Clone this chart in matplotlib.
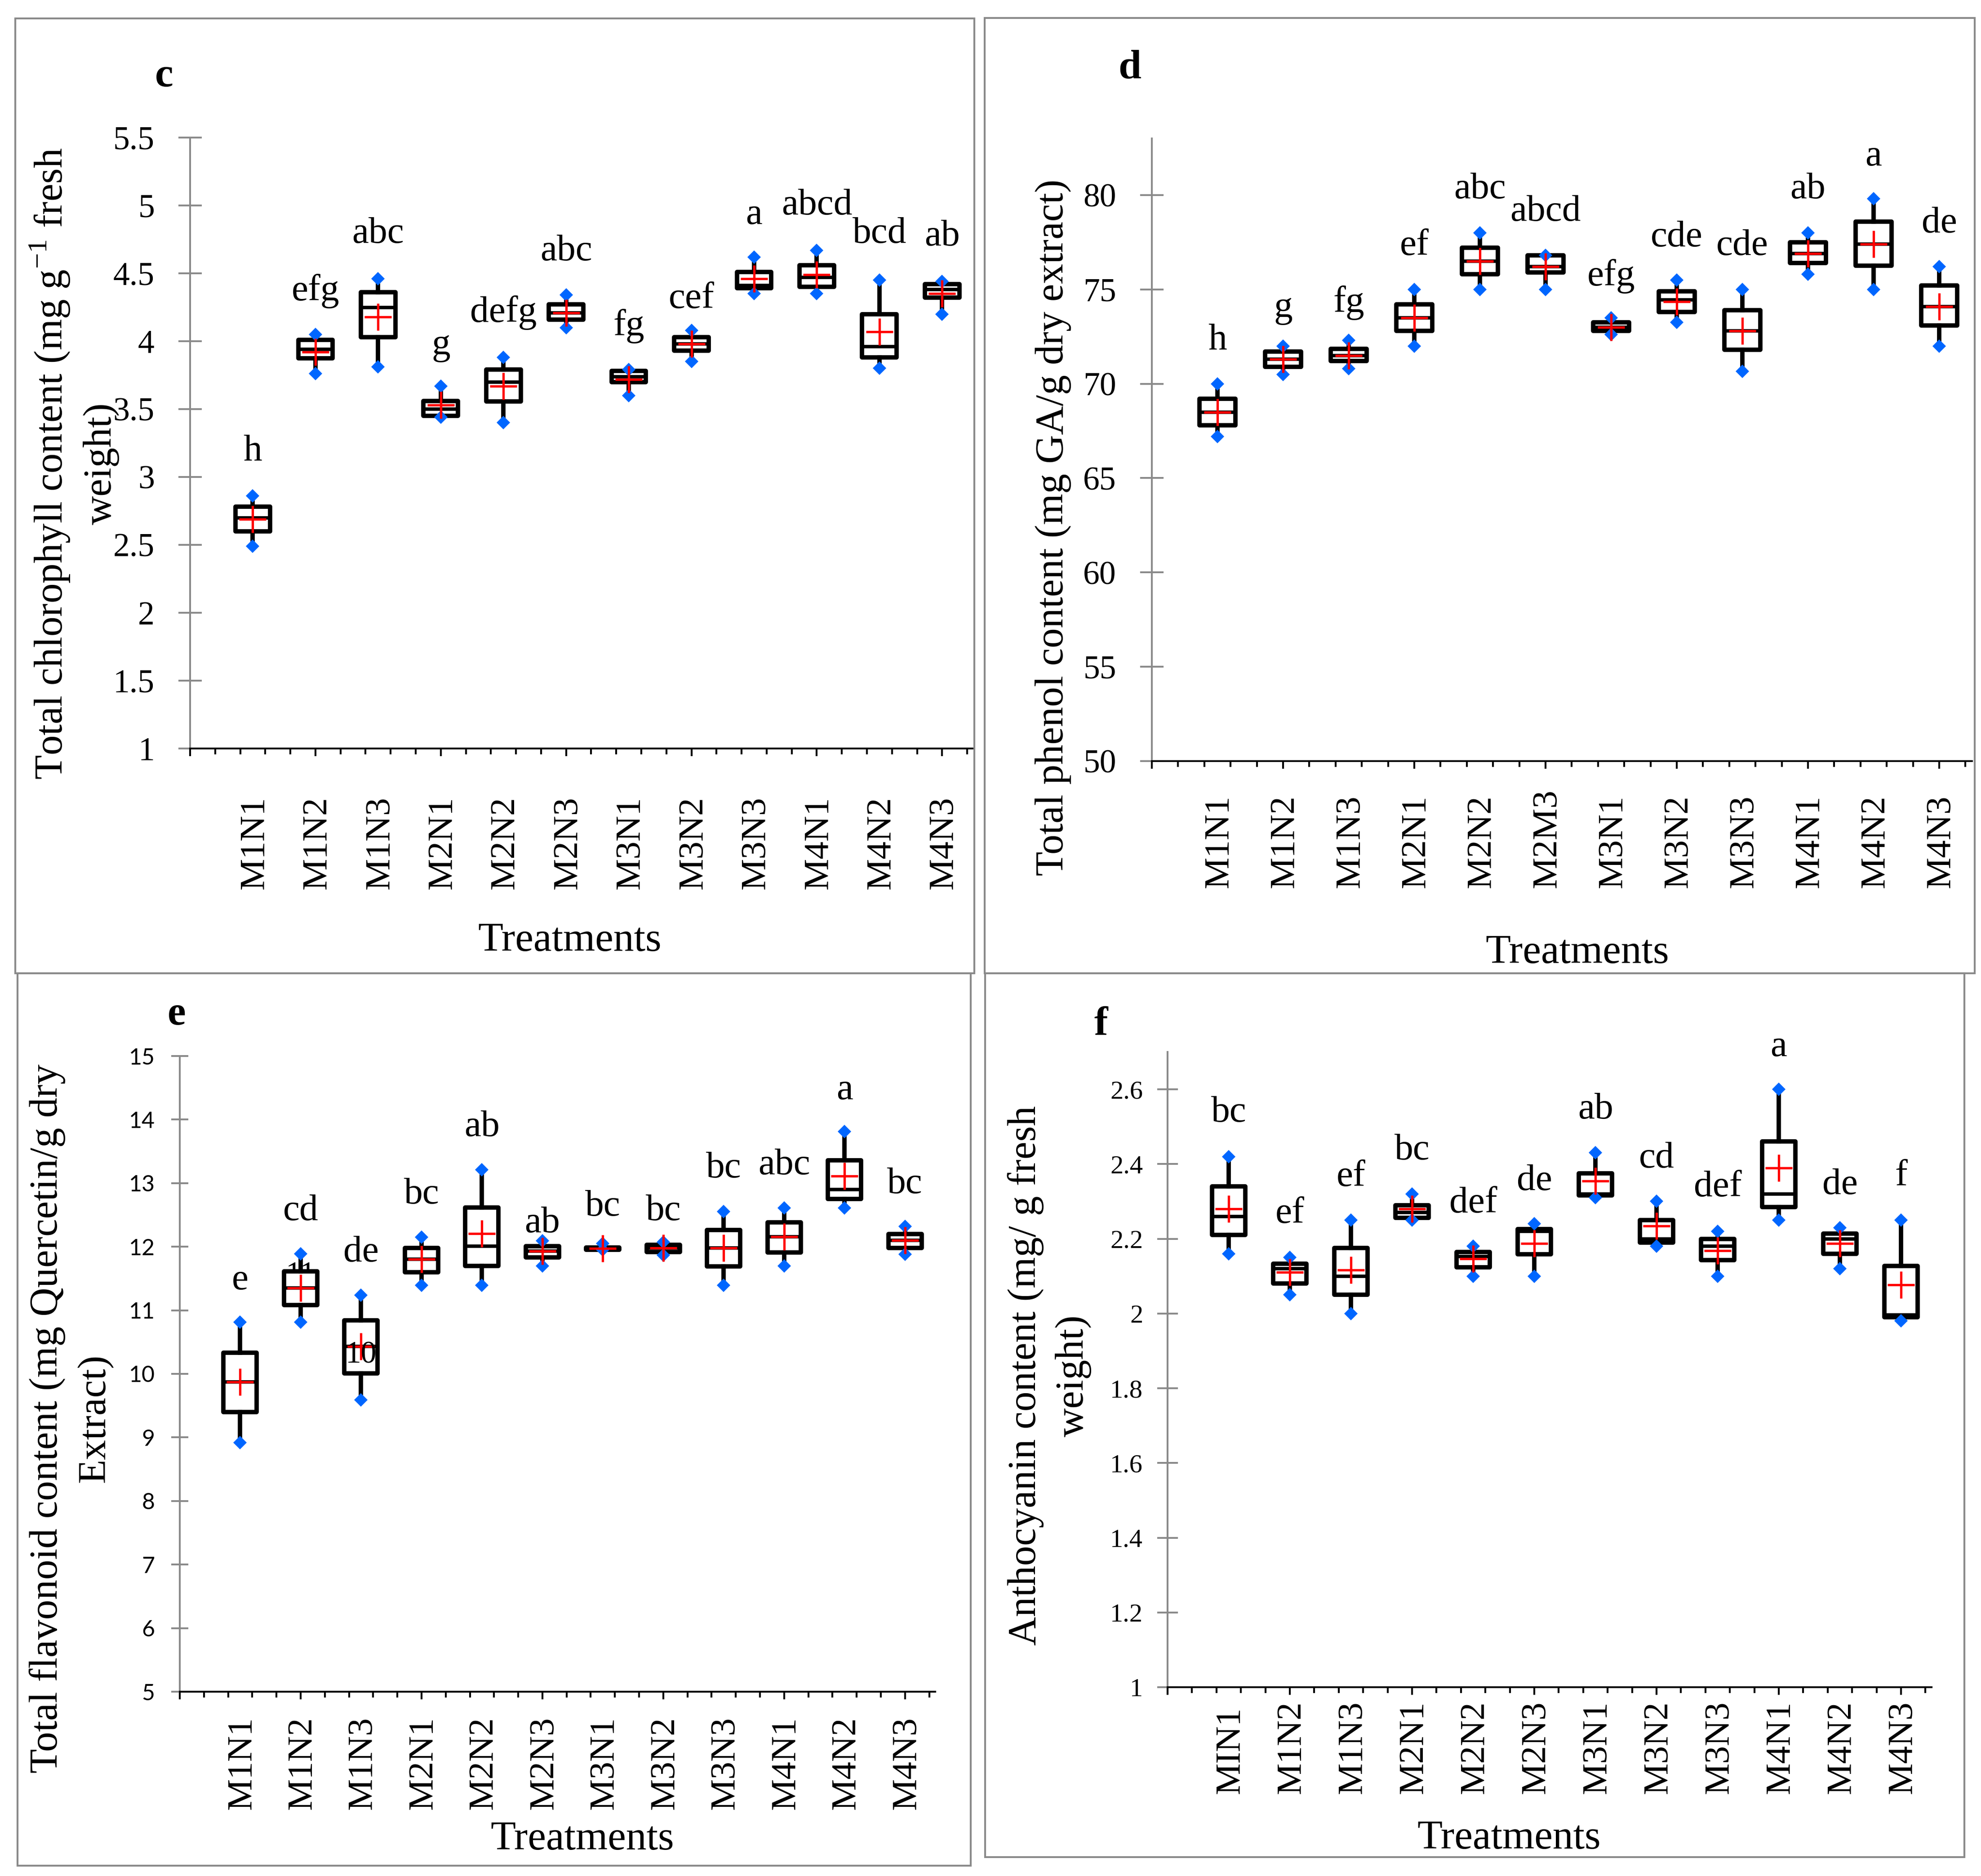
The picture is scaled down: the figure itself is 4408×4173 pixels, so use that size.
import numpy as np
import matplotlib
matplotlib.use("Agg")
import matplotlib.pyplot as plt
import matplotlib.transforms as mtransforms
from matplotlib.patches import Rectangle
from matplotlib.ticker import MultipleLocator, NullFormatter

plt.rcParams["font.family"] = ["Liberation Serif", "DejaVu Serif"]
plt.rcParams["mathtext.fontset"] = "custom"
plt.rcParams["mathtext.rm"] = "Liberation Serif"

# ---- data ----
treat = ["M1N1", "M1N2", "M1N3", "M2N1", "M2N2", "M2N3",
         "M3N1", "M3N2", "M3N3", "M4N1", "M4N2", "M4N3"]
treat_d = ["M1N1", "M1N2", "M1N3", "M2N1", "M2N2", "M2M3",
           "M3N1", "M3N2", "M3N3", "M4N1", "M4N2", "M4N3"]
treat_f = ["MIN1"] + treat[1:]

# c: chlorophyll
c_min = [2.49, 3.76, 3.81, 3.44, 3.40, 4.10, 3.60, 3.85, 4.35, 4.35, 3.80, 4.20]
c_q1 = [2.60, 3.875, 4.03, 3.45, 3.555, 4.16, 3.70, 3.93, 4.39, 4.40, 3.88, 4.32]
c_med = [2.70, 3.94, 4.25, 3.50, 3.70, 4.21, 3.74, 3.98, 4.41, 4.47, 3.96, 4.38]
c_q3 = [2.78, 4.01, 4.36, 3.56, 3.79, 4.27, 3.78, 4.03, 4.51, 4.56, 4.20, 4.42]
c_max = [2.86, 4.05, 4.46, 3.67, 3.88, 4.34, 3.79, 4.08, 4.62, 4.67, 4.45, 4.44]
c_mean = [2.69, 3.92, 4.18, 3.53, 3.67, 4.21, 3.72, 3.98, 4.46, 4.49, 4.07, 4.35]
c_let = ["h", "efg", "abc", "g", "defg", "abc", "fg", "cef", "a", "abcd", "bcd", "ab"]
c_let_y = [3.19, 4.37, 4.79, 3.97, 4.21, 4.66, 4.11, 4.31, 4.93, 5.00, 4.79, 4.77]

# d: phenol
d_min = [67.2, 70.5, 70.8, 72.0, 75.0, 75.0, 72.6, 73.25, 70.65, 75.8, 75.0, 72.0]
d_q1 = [67.8, 70.9, 71.2, 72.8, 75.8, 75.9, 72.8, 73.8, 71.8, 76.4, 76.25, 73.1]
d_med = [68.5, 71.3, 71.5, 73.5, 76.5, 76.2, 73.0, 74.45, 72.8, 76.9, 77.4, 74.1]
d_q3 = [69.2, 71.7, 71.85, 74.2, 77.2, 76.8, 73.25, 74.9, 73.9, 77.5, 78.6, 75.2]
d_max = [70.0, 72.0, 72.3, 75.0, 78.0, 76.8, 73.5, 75.5, 75.0, 78.0, 79.8, 76.2]
d_mean = [68.5, 71.3, 71.5, 73.5, 76.5, 76.2, 73.0, 74.35, 72.8, 76.9, 77.4, 74.1]
d_let = ["h", "g", "fg", "ef", "abc", "abcd", "efg", "cde", "cde", "ab", "a", "de"]
d_let_y = [72.3, 74.0, 74.3, 77.3, 80.3, 79.1, 75.7, 77.75, 77.3, 80.3, 82.05, 78.5]

# e: flavonoid
e_min = [8.92, 10.81, 9.59, 11.39, 11.39, 11.70, 11.95, 11.87, 11.39, 11.70, 12.61, 11.88]
e_q1 = [9.40, 11.08, 10.01, 11.60, 11.70, 11.83, 11.95, 11.92, 11.69, 11.91, 12.75, 11.98]
e_med = [9.87, 11.35, 10.43, 11.80, 12.01, 11.93, 11.98, 11.98, 11.98, 12.16, 12.90, 12.10]
e_q3 = [10.33, 11.61, 10.84, 11.98, 12.62, 12.01, 11.99, 12.03, 12.26, 12.38, 13.36, 12.20]
e_max = [10.81, 11.89, 11.24, 12.15, 13.21, 12.09, 12.05, 12.07, 12.55, 12.61, 13.81, 12.32]
e_mean = [9.87, 11.35, 10.43, 11.80, 12.21, 11.93, 11.97, 11.98, 11.98, 12.16, 13.11, 12.10]
e_let = ["e", "cd", "de", "bc", "ab", "ab", "bc", "bc", "bc", "abc", "a", "bc"]
e_let_y = [11.47, 12.56, 11.91, 12.82, 13.88, 12.37, 12.63, 12.56, 13.23, 13.28, 14.46, 12.98]

# f: anthocyanin
f_min = [2.16, 2.05, 2.00, 2.25, 2.10, 2.10, 2.31, 2.18, 2.10, 2.25, 2.12, 1.98]
f_q1 = [2.21, 2.08, 2.05, 2.256, 2.124, 2.159, 2.316, 2.19, 2.143, 2.285, 2.16, 1.99]
f_med = [2.26, 2.12, 2.10, 2.27, 2.152, 2.22, 2.32, 2.20, 2.18, 2.32, 2.20, 1.996]
f_q3 = [2.34, 2.133, 2.176, 2.29, 2.165, 2.226, 2.375, 2.25, 2.20, 2.46, 2.214, 2.127]
f_max = [2.42, 2.15, 2.25, 2.32, 2.18, 2.24, 2.43, 2.30, 2.22, 2.60, 2.23, 2.25]
f_mean = [2.28, 2.11, 2.116, 2.28, 2.146, 2.187, 2.355, 2.234, 2.168, 2.39, 2.187, 2.077]
f_let = ["bc", "ef", "ef", "bc", "def", "de", "ab", "cd", "def", "a", "de", "f"]
f_let_y = [2.537, 2.266, 2.365, 2.436, 2.294, 2.354, 2.546, 2.415, 2.338, 2.713, 2.343, 2.367]

# ---- figure ----
W, H = 4408, 4173
fig = plt.figure(figsize=(W / 100, H / 100), dpi=100)
GRAY = "#8a8a8a"
BLUE = "#0066ff"
pos = np.arange(1, 13)


def fx(x):
    return x / W


def fy(y):
    return 1 - y / H


def frame(x0, y0, x1, y1):
    fig.add_artist(Rectangle((fx(x0), fy(y1)), (x1 - x0) / W, (y1 - y0) / H,
                             transform=fig.transFigure, fill=False,
                             ec=GRAY, lw=3))


def panel(box, ylim, ystep, mins, q1, med, q3, maxs, means, names, lets, let_y,
          tick_font, tick_size, tick_len, tick_pad, lab_bottom):
    x0, ytop, x1, ybot = box
    ax = fig.add_axes([fx(x0), fy(ybot), (x1 - x0) / W, (ybot - ytop) / H])
    stats = [dict(whislo=a, q1=b, med=m, q3=d, whishi=e, mean=mn, fliers=[])
             for a, b, m, d, e, mn in zip(mins, q1, med, q3, maxs, means)]
    ax.bxp(stats, positions=pos, widths=0.55, patch_artist=True,
           showmeans=True, showcaps=False, showfliers=False,
           boxprops=dict(facecolor="white", edgecolor="black", linewidth=7,
                         joinstyle="round"),
           whiskerprops=dict(color="black", linewidth=7),
           medianprops=dict(color="black", linewidth=5.5),
           meanprops=dict(marker="+", markeredgecolor="red", markersize=43,
                          markeredgewidth=3.8, zorder=5))
    ax.plot(pos, mins, "D", color=BLUE, ms=15, mew=0, zorder=4, clip_on=False)
    ax.plot(pos, maxs, "D", color=BLUE, ms=15, mew=0, zorder=4, clip_on=False)
    for p, s, y in zip(pos, lets, let_y):
        ax.text(p, y, s, ha="center", va="center", fontsize=60)

    ax.set_xlim(0, 12.5)
    ax.set_ylim(*ylim)
    ax.set_yticks(np.arange(ylim[0], ylim[1] + 1e-9, ystep) if ystep else [])
    for s in ("top", "right"):
        ax.spines[s].set_visible(False)
    ax.spines["left"].set_color(GRAY)
    ax.spines["left"].set_linewidth(2.9)
    ax.spines["bottom"].set_linewidth(2.9)
    ax.xaxis.set_major_locator(MultipleLocator(2))
    ax.xaxis.set_minor_locator(MultipleLocator(0.4))
    ax.xaxis.set_major_formatter(NullFormatter())
    ax.tick_params(axis="x", which="major", direction="out", length=12,
                   width=3, color="black")
    ax.tick_params(axis="x", which="minor", direction="out", length=9,
                   width=3, color="black")
    ax.tick_params(axis="y", direction="inout", length=tick_len, width=2.9,
                   color=GRAY, pad=tick_pad, labelsize=tick_size)
    for t in ax.get_yticklabels():
        t.set_fontfamily(tick_font)
    tr = mtransforms.blended_transform_factory(ax.transData, fig.transFigure)
    for p, s in zip(pos, names):
        ax.text(p + 0.03, fy(lab_bottom), s, transform=tr, rotation=90,
                ha="center", va="bottom", fontsize=57)
    return ax


SERIF = ["Liberation Serif", "DejaVu Serif"]

# frames
frame(34, 41, 2168, 2165)
frame(2191, 40, 4394, 2165)
frame(39, 2165, 2160, 4150)
frame(2192, 2165, 4371, 4131)

# c
ax_c = panel((423, 306, 2166, 1665), (1, 5.5), 0.5, c_min, c_q1, c_med, c_q3,
             c_max, c_mean, treat, c_let, c_let_y, SERIF, 53, 38, 38, 1978)
ax_c.set_yticklabels(["1", "1.5", "2", "2.5", "3", "3.5", "4", "4.5", "5", "5.5"])

# d
ax_d = panel((2563, 308, 4388, 1693), (50, 83), None, d_min, d_q1, d_med, d_q3,
             d_max, d_mean, treat_d, d_let, d_let_y, SERIF, 53, 38, 38, 1975)
ax_d.set_yticks(np.arange(50, 81, 5))
for t in ax_d.get_yticklabels():
    t.set_fontfamily(SERIF)

# e
ax_e = panel((400, 2349, 2081, 3763), (5, 15), 1, e_min, e_q1, e_med, e_q3,
             e_max, e_mean, treat, e_let, e_let_y, ["Lato", "DejaVu Sans"],
             36, 28, 26, 4025)
ax_e.text(3, 10.29, "10", ha="center", va="center", fontsize=50, zorder=6)
ax_e.text(2, 11.55, "11", ha="center", va="center", fontsize=50, zorder=1)

# f
ax_f = panel((2598, 2340, 4298, 3753), (1, 2.7), None, f_min, f_q1, f_med, f_q3,
             f_max, f_mean, treat_f, f_let, f_let_y, SERIF, 42, 33, 23, 3990)
ax_f.set_yticks(np.round(np.arange(1, 2.61, 0.2), 1))
ax_f.set_yticklabels(["1", "1.2", "1.4", "1.6", "1.8", "2", "2.2", "2.4", "2.6"])
for t in ax_f.get_yticklabels():
    t.set_fontfamily(SERIF)

# axis titles
fig.text(fx(164), fy(1031), "Total chlorophyll content (mg g$^{\\mathregular{-1}}$ fresh\nweight)",
         rotation=90, ha="center", va="center", fontsize=64, linespacing=1.4)
fig.text(fx(2343), fy(1173), "Total phenol content (mg GA/g dry extract)",
         rotation=90, ha="center", va="center", fontsize=64)
fig.text(fx(158), fy(3155), "Total flavonoid content (mg Quercetin/g dry\nExtract)",
         rotation=90, ha="center", va="center", fontsize=64, linespacing=1.4)
fig.text(fx(2335), fy(3060), "Anthocyanin content (mg/ g fresh\nweight)",
         rotation=90, ha="center", va="center", fontsize=64, linespacing=1.4)

for x, y in [(1268, 2093), (3510, 2120), (1296, 4092), (3358, 4090)]:
    fig.text(fx(x), fy(y), "Treatments", ha="center", va="center", fontsize=66)

# panel letters
for x, y, s in [(365, 170, "c"), (2514, 152, "d"), (393, 2257, "e"), (2450, 2280, "f")]:
    fig.text(fx(x), fy(y), s, ha="center", va="center", fontsize=66,
             fontweight="bold")

fig.savefig("out.png", dpi=100)
